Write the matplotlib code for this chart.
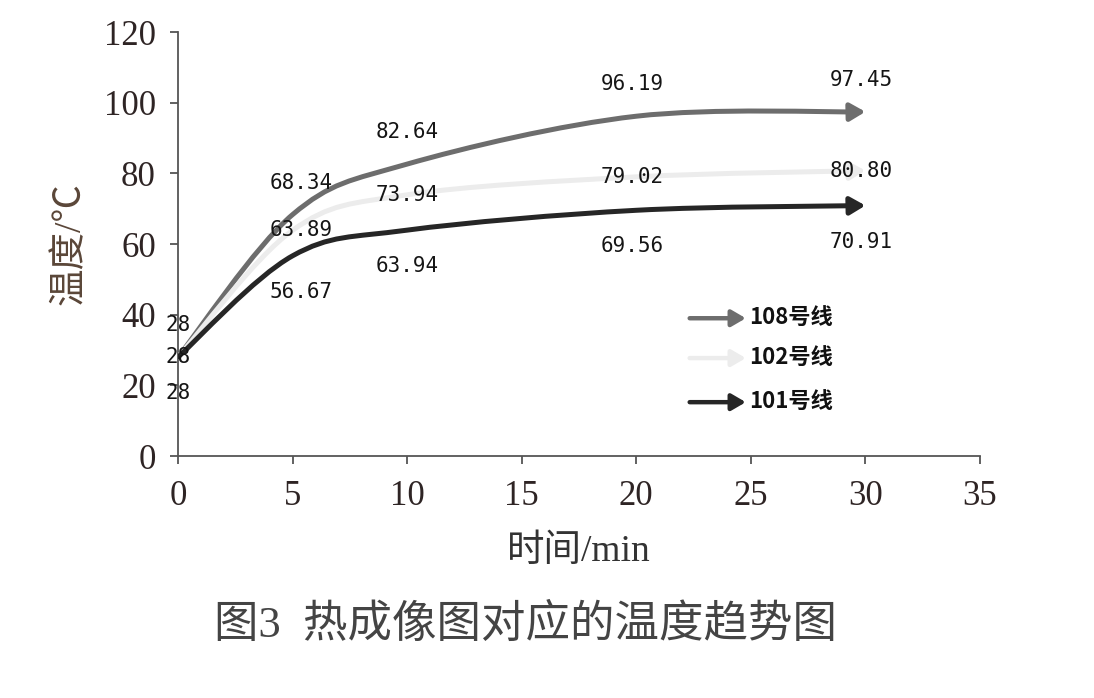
import matplotlib
matplotlib.use("Agg")
import matplotlib.pyplot as plt
from matplotlib.path import Path
from matplotlib.patches import FancyArrowPatch

# ========= 数据 =========
time_min = [0, 5, 10, 20, 30]
line_108 = [28, 68.34, 82.64, 96.19, 97.45]
line_102 = [28, 63.89, 73.94, 79.02, 80.80]
line_101 = [28, 56.67, 63.94, 69.56, 70.91]
labels_108 = ["28", "68.34", "82.64", "96.19", "97.45"]
labels_102 = ["28", "63.89", "73.94", "79.02", "80.80"]
labels_101 = ["28", "56.67", "63.94", "69.56", "70.91"]
series_names = ["108号线", "102号线", "101号线"]
# ========================

plt.rcParams['font.family'] = ['Liberation Serif', 'Noto Sans CJK SC', 'DejaVu Sans']

fig = plt.figure(figsize=(10.94, 6.98), dpi=100)
ax = fig.add_axes([0.1627, 0.3467, 0.7331, 0.6073])


def smooth_path(xs, ys):
    # Excel 风格平滑线：三次贝塞尔，控制点取相邻点差的 1/6
    pts = list(zip(xs, ys))
    n = len(pts)
    verts = [pts[0]]
    codes = [Path.MOVETO]
    for i in range(n - 1):
        p0 = pts[i - 1] if i > 0 else pts[i]
        p1 = pts[i]
        p2 = pts[i + 1]
        p3 = pts[i + 2] if i + 2 < n else pts[i + 1]
        c1 = (p1[0] + (p2[0] - p0[0]) / 6, p1[1] + (p2[1] - p0[1]) / 6)
        c2 = (p2[0] - (p3[0] - p1[0]) / 6, p2[1] - (p3[1] - p1[1]) / 6)
        verts += [c1, c2, p2]
        codes += [Path.CURVE4] * 3
    return Path(verts, codes)


styles = [
    (line_108, labels_108, "#6d6d6d", 23),
    (line_102, labels_102, "#ececec", 0),
    (line_101, labels_101, "#262626", -26),
]
label_dx = [0, 6, 0, -3, -3]
head = "-|>,head_length=0.6,head_width=0.35"

for vals, labs, color, dy in styles:
    arrow = FancyArrowPatch(path=smooth_path(time_min, vals),
                            arrowstyle=head, mutation_scale=15,
                            color=color, lw=3.6,
                            capstyle="round", joinstyle="round",
                            transform=ax.transData, zorder=3)
    ax.add_patch(arrow)
    for x, y, t, dx in zip(time_min, vals, labs, label_dx):
        ax.annotate(t, (x, y), xytext=(dx, dy), textcoords="offset points",
                    ha="center", va="center", fontsize=15,
                    family="DejaVu Sans Mono", color="#151515", zorder=4)

# ---------- 图例（箭头样式）----------
legend_y = [0.325, 0.231, 0.127]
for (vals, labs, color, dy), name, ly in zip(styles, series_names, legend_y):
    ax.annotate("", xy=(0.708, ly), xytext=(0.638, ly), xycoords="axes fraction",
                arrowprops=dict(arrowstyle=head, mutation_scale=14,
                                color=color, lw=3.2, shrinkA=0, shrinkB=0))
    ax.text(0.712, ly, name, transform=ax.transAxes, ha="left", va="center",
            fontsize=16, family=["Noto Sans CJK SC", "DejaVu Sans"],
            fontweight="bold", color="#111111")

ax.set_xlim(0, 35)
ax.set_ylim(0, 120)
ax.set_xticks(range(0, 36, 5))
ax.set_yticks(range(0, 121, 20))
for s in ["top", "right"]:
    ax.spines[s].set_visible(False)
for s in ["left", "bottom"]:
    ax.spines[s].set_color("#555555")
    ax.spines[s].set_linewidth(1.3)
ax.tick_params(axis="both", direction="out", length=6, width=1.3,
               color="#555555", labelsize=25, labelcolor="#2e2424")
ax.tick_params(axis="y", pad=10)
ax.tick_params(axis="x", pad=11)

ax.set_ylabel("温度/℃", fontsize=27, color="#5a4638")
ax.yaxis.set_label_coords(-0.112, 0.5)
ax.set_xlabel("时间/min", fontsize=27, color="#333333")
ax.xaxis.set_label_coords(0.5, -0.185)

fig.text(0.48, 0.105, "图3  热成像图对应的温度趋势图", ha="center", va="center",
         fontsize=32, color="#444444")

fig.savefig("out.png", dpi=100)
